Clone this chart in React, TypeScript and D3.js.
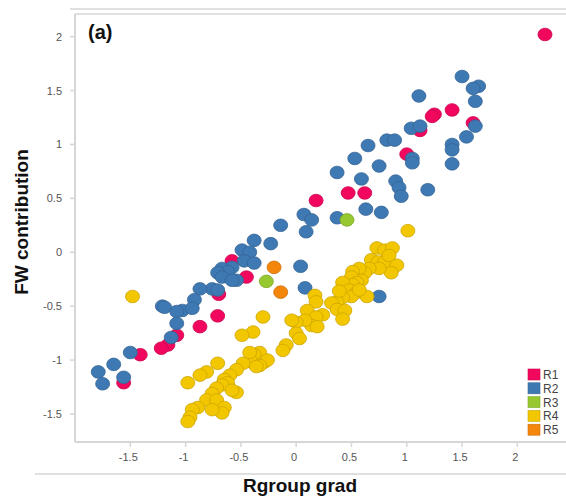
import * as d3 from "d3";
import React from "react";

// series values [Rgroup grad, FW contribution]
const r1Pts: [number, number][] = [
  [2.25, 2.02], [1.25, 1.28], [1.23, 1.26], [1.41, 1.32], [1.6, 1.2], [1.12, 1.13],
  [1.0, 0.91], [0.47, 0.55], [0.62, 0.55], [0.18, 0.48], [-0.58, -0.08], [-0.45, -0.23],
  [-0.7, -0.39], [-0.71, -0.59], [-0.87, -0.69], [-1.08, -0.77], [-1.16, -0.86],
  [-1.22, -0.89], [-1.41, -0.95], [-1.56, -1.21],
];
const r2Pts: [number, number][] = [
  [1.5, 1.63], [1.65, 1.54], [1.6, 1.52], [1.62, 1.4], [1.11, 1.45], [1.62, 1.17],
  [1.04, 1.15], [1.12, 1.17], [1.54, 1.07], [1.41, 1.0], [1.41, 0.95], [1.41, 0.82],
  [0.82, 1.04], [0.89, 1.04], [0.65, 0.99], [1.05, 0.87], [1.05, 0.83], [0.53, 0.87],
  [0.75, 0.8], [0.37, 0.74], [0.59, 0.68], [0.9, 0.66], [0.93, 0.6], [0.95, 0.52],
  [1.19, 0.58], [0.63, 0.4], [0.77, 0.37], [0.07, 0.35], [0.14, 0.3], [0.37, 0.32],
  [-0.14, 0.25], [0.09, 0.19], [-0.38, 0.11], [-0.23, 0.08], [-0.49, 0.02], [-0.42, 0.0],
  [-0.47, -0.08], [-0.38, -0.1], [-0.58, -0.14], [-0.67, -0.15], [-0.62, -0.18],
  [-0.71, -0.19], [-0.67, -0.23], [-0.54, -0.26], [-0.58, -0.26], [-0.76, -0.34],
  [-0.87, -0.34], [-0.71, -0.35], [-0.92, -0.44], [-1.21, -0.5], [-1.19, -0.51],
  [-1.03, -0.54], [-1.08, -0.55], [-0.94, -0.52], [-1.08, -0.66], [-1.13, -0.79],
  [0.04, -0.13], [0.08, -0.33], [0.75, -0.41], [-1.5, -0.93], [-1.65, -1.04],
  [-1.79, -1.11], [-1.75, -1.22], [-1.56, -1.16],
];
const r3Pts: [number, number][] = [[0.46, 0.3], [-0.27, -0.27]];
const r4Pts: [number, number][] = [
  [1.01, 0.2], [0.73, 0.04], [0.8, 0.02], [0.87, 0.04], [0.68, -0.07], [0.74, -0.09],
  [0.8, -0.09], [0.84, -0.03], [0.91, -0.12], [0.86, -0.19], [0.75, -0.15], [0.66, -0.15],
  [0.62, -0.19], [0.57, -0.15], [0.51, -0.18], [0.59, -0.26], [0.5, -0.23], [0.55, -0.28],
  [0.51, -0.3], [0.42, -0.28], [0.41, -0.37], [0.48, -0.35], [0.55, -0.37], [0.5, -0.41],
  [0.42, -0.42], [0.37, -0.46], [0.32, -0.47], [0.37, -0.53], [0.44, -0.54], [0.42, -0.62],
  [0.24, -0.58], [0.17, -0.4], [0.18, -0.46], [0.1, -0.54], [0.18, -0.6], [0.14, -0.68],
  [0.19, -0.69], [0.08, -0.63], [0.0, -0.65], [0.0, -0.75], [-0.04, -0.63], [0.64, -0.41],
  [0.57, -0.35], [0.39, -0.36], [0.03, -0.8], [-0.09, -0.86], [-0.12, -0.91], [-0.3, -0.6],
  [-0.39, -0.74], [-0.49, -0.77], [-0.33, -0.93], [-0.38, -0.95], [-0.4, -1.02],
  [-0.48, -1.03], [-0.29, -1.02], [-0.26, -1.0], [-0.33, -1.05], [-0.36, -1.06],
  [-0.42, -0.93], [-0.54, -1.09], [-0.6, -1.14], [-0.65, -1.18], [-0.62, -1.21],
  [-0.71, -1.03], [-0.81, -1.11], [-0.87, -1.14], [-0.98, -1.21], [-0.54, -1.3],
  [-0.67, -1.23], [-0.72, -1.26], [-0.76, -1.31], [-0.81, -1.37], [-0.72, -1.37],
  [-0.65, -1.44], [-0.67, -1.49], [-0.76, -1.46], [-0.89, -1.44], [-0.94, -1.46],
  [-0.96, -1.53], [-0.98, -1.57], [-0.58, -1.28], [-1.48, -0.41],
];
const r5Pts: [number, number][] = [[-0.2, -0.14], [-0.14, -0.37]];

const seriesNames = ["R1", "R2", "R3", "R4", "R5"];
const seriesColors = ["#f2075f", "#3f79b3", "#97c830", "#f3c700", "#f5860c"];
const seriesData = [r1Pts, r2Pts, r3Pts, r4Pts, r5Pts];

const xTicks = [-1.5, -1, -0.5, 0, 0.5, 1, 1.5, 2];
const yTicks = [-1.5, -1, -0.5, 0, 0.5, 1, 1.5, 2];

const W = 566;
const H = 498;
const left = 75, right = 566, top = 14, bottom = 442;

export default function App() {
  const x = d3.scaleLinear().domain([-2.0, 2.44]).range([left, right]);
  const y = d3.scaleLinear().domain([-1.76, 2.21]).range([bottom, top]);
  const axisCol = "#d6d6d6";
  const tickCol = "#555";

  return (
    <svg width={W} height={H} style={{ position: "absolute", left: 0, top: 0, background: "#fff" }}
      fontFamily="'Liberation Sans', Arial, sans-serif">
      {/* frame lines */}
      <line x1={70} x2={W} y1={9} y2={9} stroke={axisCol} strokeWidth={1.5} />
      <line x1={left} x2={W} y1={top} y2={top} stroke={axisCol} strokeWidth={1.5} />
      <line x1={left} x2={left} y1={top} y2={bottom} stroke={axisCol} strokeWidth={2} />
      <line x1={left} x2={W} y1={bottom} y2={bottom} stroke={axisCol} strokeWidth={2} />
      <line x1={35} x2={W} y1={474} y2={474} stroke={axisCol} strokeWidth={1.5} />

      {yTicks.map((t) => (
        <g key={"y" + t}>
          <line x1={left - 5} x2={left} y1={y(t)} y2={y(t)} stroke={axisCol} strokeWidth={1.5} />
          <text x={left - 13} y={y(t) + 4} textAnchor="end" fontSize={11} fill={tickCol}>{String(t)}</text>
        </g>
      ))}
      {xTicks.map((t) => (
        <g key={"x" + t}>
          <line x1={x(t)} x2={x(t)} y1={bottom} y2={bottom + 5} stroke={axisCol} strokeWidth={1.5} />
          <text x={x(t) - 2} y={461} textAnchor="middle" fontSize={11} fill={tickCol}>{String(t)}</text>
        </g>
      ))}

      <text x={88} y={39} fontSize={20} fontWeight="bold" fill="#111">(a)</text>

      {seriesData.map((pts, i) =>
        pts.map((d, j) => (
          <ellipse key={i + "-" + j} cx={x(d[0])} cy={y(d[1])} rx={7} ry={6.3}
            fill={seriesColors[i]} stroke={d3.color(seriesColors[i])!.darker(0.5).formatHex()}
            strokeWidth={0.8} />
        ))
      )}

      {seriesNames.map((n, i) => (
        <g key={n} transform={`translate(528,${369 + i * 13.8})`}>
          <rect x={0} y={0} width={12} height={11} fill={seriesColors[i]}
            stroke={d3.color(seriesColors[i])!.darker(0.5).formatHex()} strokeWidth={0.6} />
          <text x={15} y={10} fontSize={12} fill="#444">{n}</text>
        </g>
      ))}

      <text x={300} y={492} textAnchor="middle" fontSize={19} fontWeight="bold" fill="#111">Rgroup grad</text>
      <text transform="translate(28,222) rotate(-90)" textAnchor="middle" fontSize={19} fontWeight="bold" fill="#111">FW contribution</text>
    </svg>
  );
}
